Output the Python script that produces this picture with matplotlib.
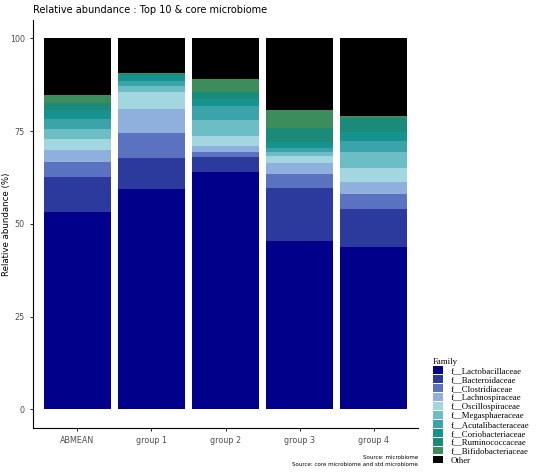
import numpy as np
import matplotlib
matplotlib.use("Agg")
import matplotlib.pyplot as plt
from matplotlib.patches import Patch

groups = ["ABMEAN", "group 1", "group 2", "group 3", "group 4"]
families = ["f__Lactobacillaceae", "f__Bacteroidaceae", "f__Clostridiaceae",
            "f__Lachnospiraceae", "f__Oscillospiraceae", "f__Megasphaeraceae",
            "f__Acutalibacteraceae", "f__Coriobacteriaceae", "f__Ruminococcaceae",
            "f__Bifidobacteriaceae", "Other"]
colors = ["#00008b", "#2b3a9c", "#5b72c0", "#8fb0dc", "#a3d7e0", "#6dbdc6",
          "#3ba4ab", "#16928f", "#1b8a78", "#3d8c5c", "#000000"]

# relative abundance (%) per family, one value per group
lacto    = [53.1, 59.4, 64.0, 45.4, 43.8]
bactero  = [9.6, 8.3, 4.1, 14.4, 10.2]
clostr   = [3.9, 6.7, 1.3, 3.8, 4.0]
lachno   = [3.3, 6.5, 1.6, 2.9, 3.3]
oscillo  = [3.1, 4.7, 2.7, 1.8, 3.7]
megasph  = [2.7, 1.5, 4.3, 1.1, 4.4]
acutalib = [2.7, 1.5, 3.8, 1.2, 3.0]
corio    = [2.3, 1.5, 1.8, 1.5, 2.5]
rumino   = [2.0, 0.3, 2.0, 3.9, 3.8]
bifido   = [2.2, 0.2, 3.4, 4.6, 0.4]
other    = [15.1, 9.4, 11.0, 19.4, 20.9]

layers = [lacto, bactero, clostr, lachno, oscillo, megasph, acutalib,
          corio, rumino, bifido, other]

fig = plt.figure(figsize=(5.5, 4.75), dpi=100)
ax = fig.add_axes([0.06, 0.099, 0.70, 0.859])

x = np.arange(len(groups))
bottom = np.zeros(len(groups))
for vals, c in zip(layers, colors):
    vals = np.array(vals)
    ax.bar(x, vals, width=0.9, bottom=bottom, color=c, linewidth=0)
    bottom += vals

ax.set_xlim(-0.6, 4.6)
ax.set_ylim(-5, 105)
ax.set_yticks([0, 25, 50, 75, 100])
ax.set_xticks(x)
ax.set_xticklabels(groups)
for s in ["top", "right"]:
    ax.spines[s].set_visible(False)
ax.spines["left"].set_linewidth(0.8)
ax.spines["bottom"].set_linewidth(0.8)
ax.tick_params(axis="both", labelsize=5.8, labelcolor="#4d4d4d", length=2.5, width=0.6)
for t in ax.get_xticklabels() + ax.get_yticklabels():
    t.set_family("Liberation Sans Narrow")
ax.set_ylabel("Relative abundance (%)", fontsize=6.2, family="Liberation Sans Narrow")
ax.yaxis.set_label_coords(-0.056, 0.5)

fig.text(0.06, 0.978, "Relative abundance : Top 10 & core microbiome",
         fontsize=7, family="Liberation Sans Narrow", va="center")

handles = [Patch(facecolor=c, edgecolor="none") for c in colors]
fig.legend(handles, families, loc="upper left", bbox_to_anchor=(0.787, 0.246),
           frameon=False, title="Family", alignment="left",
           prop={"family": "Liberation Serif", "size": 6.3},
           title_fontproperties={"family": "Liberation Serif", "size": 6.3},
           handlelength=1.15, handleheight=0.95, labelspacing=0.02,
           handletextpad=0.9, borderaxespad=0, borderpad=0)

fig.text(0.76, 0.034, "Source: microbiome", fontsize=4, ha="right",
         family="Liberation Sans Narrow")
fig.text(0.76, 0.019, "Source: core microbiome and std microbiome", fontsize=4,
         ha="right", family="Liberation Sans Narrow")

fig.savefig("out.png", dpi=100)
